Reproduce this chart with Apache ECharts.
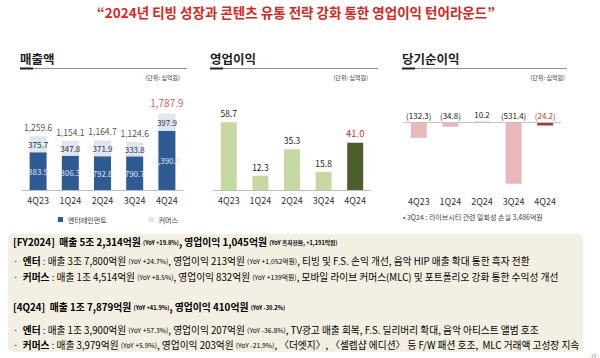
<!DOCTYPE html>
<html><head><meta charset="utf-8">
<script src="https://cdn.jsdelivr.net/npm/echarts@6/dist/echarts.min.js"></script>
<style>html,body{margin:0;padding:0;background:#fff}#c{width:600px;height:358px}</style>
</head><body><div id="c"></div>
<script>
// ---- data ----
const quarters = ['4Q23', '1Q24', '2Q24', '3Q24', '4Q24'];
const revEnt = [883.9, 806.3, 792.8, 790.7, 1390.0];
const revCom = [375.7, 347.8, 371.9, 333.8, 397.9];
const revTotal = [1259.6, 1154.1, 1164.7, 1124.6, 1787.9];
const opProfit = [58.7, 12.3, 35.3, 15.8, 41.0];
const netIncome = [-132.3, -34.8, 10.2, -531.4, -24.2];
const legendNames = ['엔터테인먼트', '커머스'];

const F = '"Noto Sans CJK KR", "Noto Sans", sans-serif';
const RED = '#e0282e';
const fmt1 = v => Number(v).toLocaleString('en-US', {minimumFractionDigits: 1, maximumFractionDigits: 1});
const last = quarters.length - 1;

const chart = echarts.init(document.getElementById('c'), null, {renderer: 'svg'});

function xCat(grid, margin, extra) {
  return Object.assign({
    type: 'category', gridIndex: grid, data: quarters,
    axisLine: {show: true, onZero: false, lineStyle: {color: '#bdbdbd', width: 1}},
    axisTick: {show: false},
    axisLabel: {fontSize: 9, color: '#333', margin: margin, fontFamily: F}
  }, extra || {});
}
function yVal(grid, min, max) {
  return {type: 'value', gridIndex: grid, min: min, max: max, show: false, splitLine: {show: false}};
}

const rich = {
  h: {fontSize: 9.8, fontWeight: 'bold', color: '#1e1e1e', fontFamily: F, lineHeight: 14},
  hs: {fontSize: 5.7, fontWeight: 'bold', color: '#333', fontFamily: F, lineHeight: 14},
  b: {fontSize: 9.7, fontWeight: 'bold', color: '#1e1e1e', fontFamily: F, lineHeight: 13},
  n: {fontSize: 9.7, color: '#333', fontFamily: F, lineHeight: 13},
  t: {fontSize: 6.8, color: '#444', fontFamily: F, lineHeight: 13}
};
const lines = [
  [242, '{h|[FY2024]  매출 5조 2,314억원 }{hs|(YoY +19.8%)}{h|, 영업이익 1,045억원 }{hs|(YoY 흑자전환, +1,191억원)}'],
  [260.5, '{n|·  }{b|엔터}{n| : 매출 3조 7,800억원 }{t|(YoY +24.7%)}{n|, 영업이익 213억원 }{t|(YoY +1,052억원)}{n|, 티빙 및 F.S. 손익 개선, 음악 HIP 매출 확대 통한 흑자 전환}'],
  [276.7, '{n|·  }{b|커머스}{n| : 매출 1조 4,514억원 }{t|(YoY +8.5%)}{n|, 영업이익 832억원 }{t|(YoY +139억원)}{n|, 모바일 라이브 커머스(MLC) 및 포트폴리오 강화 통한 수익성 개선}'],
  [307, '{h|[4Q24]  매출 1조 7,879억원 }{hs|(YoY +41.9%)}{h|, 영업이익 410억원 }{hs|(YoY -30.2%)}'],
  [329.5, '{n|·  }{b|엔터}{n| : 매출 1조 3,900억원 }{t|(YoY +57.3%)}{n|, 영업이익 207억원 }{t|(YoY -36.8%)}{n|, TV광고 매출 회복, F.S. 딜리버리 확대, 음악 아티스트 앨범 호조}'],
  [344.8, '{n|·  }{b|커머스}{n| : 매출 3,979억원 }{t|(YoY +5.9%)}{n|, 영업이익 203억원 }{t|(YoY -21.9%)}{n|, 〈더엣지〉, 〈셀렙샵 에디션〉 등 F/W 패션 호조,  MLC 거래액 고성장 지속}']
];

function section(x0, x1, title, unitRight) {
  return [
    {type: 'text', x: x0, y: 58, style: {text: title, fontSize: 12.5, fontWeight: 'bold', fill: '#1e1e1e', fontFamily: F, verticalAlign: 'middle'}},
    {type: 'line', shape: {x1: x0, y1: 68.5, x2: x1, y2: 68.5}, style: {stroke: '#8f8f8f', lineWidth: 1}},
    {type: 'line', shape: {x1: x0, y1: 68.5, x2: x0 + 13, y2: 68.5}, style: {stroke: '#222', lineWidth: 2}},
    {type: 'text', x: unitRight, y: 77, style: {text: '(단위: 십억원)', fontSize: 6, fill: '#444', fontFamily: F, align: 'right', verticalAlign: 'middle'}}
  ];
}

const graphics = [
  {type: 'text', x: 296, y: 12, style: {text: '“2024년 티빙 성장과 콘텐츠 유통 전략 강화 통한 영업이익 턴어라운드”', fontSize: 13.5, fontWeight: 'bold', fill: '#d7261e', fontFamily: F, align: 'center', verticalAlign: 'middle'}},
  ...section(20, 187, '매출액', 180),
  ...section(210, 378, '영업이익', 368),
  ...section(402, 567, '당기순이익', 565),
  {type: 'text', x: 403, y: 216.5, style: {text: '• 3Q24 : 라이브시티 관련 일회성 손실 3,486억원', fontSize: 7, fill: '#444', fontFamily: F, verticalAlign: 'middle'}},
  {type: 'rect', shape: {x: 8, y: 234, width: 575, height: 118, r: 5}, style: {fill: '#f4efe3'}, z: -1},
  ...lines.map(l => ({type: 'text', x: 13, y: l[0], style: {text: l[1], rich: rich, verticalAlign: 'middle'}})),
  {type: 'text', x: 598, y: 355, style: {text: '-10-', fontSize: 5, fill: '#888', fontFamily: F, align: 'right', verticalAlign: 'middle'}}
];

const option = {
  animation: false,
  textStyle: {fontFamily: F},
  legend: {
    data: legendNames, left: 53, top: 211, itemWidth: 5, itemHeight: 5, itemGap: 42, icon: 'rect',
    textStyle: {fontSize: 7, color: '#333', fontFamily: F}, selectedMode: false
  },
  grid: [
    {left: 22, width: 161, top: 100.5, height: 89.5},
    {left: 213, width: 158, top: 97.8, height: 92.2},
    {left: 403, width: 158, top: 111.2, height: 80.5}
  ],
  xAxis: [
    xCat(0, 6),
    xCat(1, 6),
    xCat(2, 5, {axisLine: {show: false, onZero: false}})
  ],
  yAxis: [yVal(0, 0, 2100), yVal(1, 0, 80), yVal(2, -600, 100)],
  series: [
    {
      name: legendNames[0], type: 'bar', stack: 'rev', xAxisIndex: 0, yAxisIndex: 0, barWidth: 17,
      data: revEnt, itemStyle: {color: '#2f5b93'},
      label: {show: true, position: 'inside', fontSize: 8, color: '#dfe6f1', fontFamily: F, formatter: p => fmt1(p.value)}
    },
    {
      name: legendNames[1], type: 'bar', stack: 'rev', xAxisIndex: 0, yAxisIndex: 0, barWidth: 17,
      data: revCom, itemStyle: {color: '#dde6f2'},
      label: {show: true, position: 'inside', fontSize: 8, color: '#333', fontFamily: F, formatter: p => fmt1(p.value)}
    },
    {
      name: 'total', type: 'scatter', xAxisIndex: 0, yAxisIndex: 0, symbolSize: 0, silent: true,
      data: revTotal.map((v, i) => i === last ? {value: v, label: {color: RED, fontSize: 10, distance: 6}} : v),
      label: {show: true, position: 'top', distance: 5, fontSize: 8.5, color: '#222', fontFamily: F, formatter: p => fmt1(p.value)}
    },
    {
      name: 'op', type: 'bar', xAxisIndex: 1, yAxisIndex: 1, barWidth: 16,
      data: opProfit.map((v, i) => i === last ? {value: v, itemStyle: {color: '#4b5e2b'}, label: {color: RED, fontSize: 9.5}} : v),
      itemStyle: {color: '#c6d9a2'},
      label: {show: true, position: 'top', distance: 5, fontSize: 8.5, color: '#222', fontFamily: F, formatter: p => fmt1(p.value)}
    },
    {
      name: 'net', type: 'bar', xAxisIndex: 2, yAxisIndex: 2, barWidth: 16,
      data: netIncome.map((v, i) => i === last ? {value: v, itemStyle: {color: '#a8363b'}, label: {color: RED}} : v),
      itemStyle: {color: '#e9b8b9'},
      label: {show: true, position: 'top', distance: 3, fontSize: 8, color: '#222', fontFamily: F,
        formatter: p => p.value < 0 ? '(' + fmt1(-p.value) + ')' : fmt1(p.value)},
      markLine: {silent: true, symbol: 'none', label: {show: false}, lineStyle: {color: '#c4c4c4', type: 'solid', width: 1},
        data: [{yAxis: 0}]}
    }
  ],
  graphic: graphics
};
chart.setOption(option);
</script></body></html>
